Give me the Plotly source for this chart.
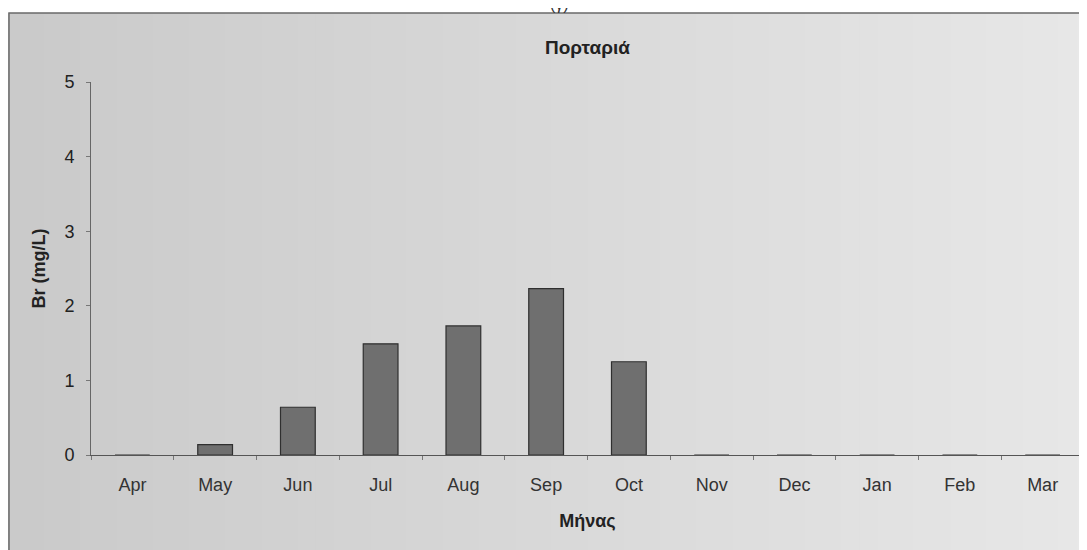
# Br (mg/L) ανά μήνα - Πορταριά
import plotly.graph_objects as go

months = ["Apr", "May", "Jun", "Jul", "Aug", "Sep", "Oct", "Nov", "Dec", "Jan", "Feb", "Mar"]
br_values = [0, 0.14, 0.64, 1.49, 1.73, 2.23, 1.25, 0, 0, 0, 0, 0]
y_ticks = [0, 1, 2, 3, 4, 5]

fig = go.Figure()

fig.add_trace(go.Bar(
    x=months,
    y=br_values,
    marker=dict(color="#6f6f6f", line=dict(color="#2f2f2f", width=1.2)),
    showlegend=False
))

font_main = "Liberation Sans, Arial, sans-serif"

# margins (page has 8px body margin)
ml, mr, mt, mb = 83, 11, 74, 103
W = 1087 - ml - mr
H = 550 - mt - mb
frame_top = 1 + (mt - 5) / H

# gray frame gradient (darker left, lighter right)
shapes = []
n_strips = 60
for i in range(n_strips):
    a = -ml + (W + ml + mr) * i / n_strips
    b = -ml + (W + ml + mr) * (i + 1) / n_strips
    g = int(202 + 30 * i / (n_strips - 1))
    shapes.append(dict(
        type="rect", xref="paper", yref="paper",
        x0=a / W, x1=b / W + 0.001, y0=-0.3, y1=frame_top,
        fillcolor=f"rgb({g},{g},{g})", line=dict(width=0), layer="below"
    ))
# frame border
shapes.append(dict(
    type="rect", xref="paper", yref="paper",
    x0=-ml / W + 0.001, x1=1.02, y0=-0.3, y1=frame_top,
    fillcolor="rgba(0,0,0,0)", line=dict(color="#6a6a6a", width=1.5), layer="below"
))

fig.update_layout(
    width=1087, height=550,
    margin=dict(l=ml, r=mr, t=mt, b=mb),
    paper_bgcolor="white",
    plot_bgcolor="white",
    bargap=0.58,
    shapes=shapes,
    font=dict(family=font_main, size=18, color="#222222"),
    title=dict(
        text="<b>Πορταριά</b>", x=0.5, xref="paper", xanchor="center",
        y=0.929, yanchor="middle", font=dict(size=19, color="#222222")
    ),
    xaxis=dict(
        showline=True, linecolor="#555555", linewidth=1,
        ticks="outside", ticklen=4, tickcolor="#777777",
        tickson="boundaries", showgrid=False, ticklabelstandoff=13,
        tickfont=dict(size=18, color="#333333"),
        title=dict(text="<b>Μήνας</b>", font=dict(size=18), standoff=20)
    ),
    yaxis=dict(
        range=[0, 5], tickvals=y_ticks,
        showline=True, linecolor="#666666", linewidth=1,
        ticks="outside", ticklen=4, tickcolor="#777777",
        showgrid=False, zeroline=False, ticklabelstandoff=8,
        tickfont=dict(size=18, color="#222222"),
        title=dict(text="<b>Br (mg/L)</b>", font=dict(size=18), standoff=14)
    )
)

# panel label partly above the frame, as in the source figure
fig.add_annotation(
    text="(γ)", xref="paper", yref="paper", x=0.472, y=frame_top,
    yanchor="bottom", yshift=-2, showarrow=False, font=dict(size=16, color="#333333")
)

fig.write_html("out.html")
